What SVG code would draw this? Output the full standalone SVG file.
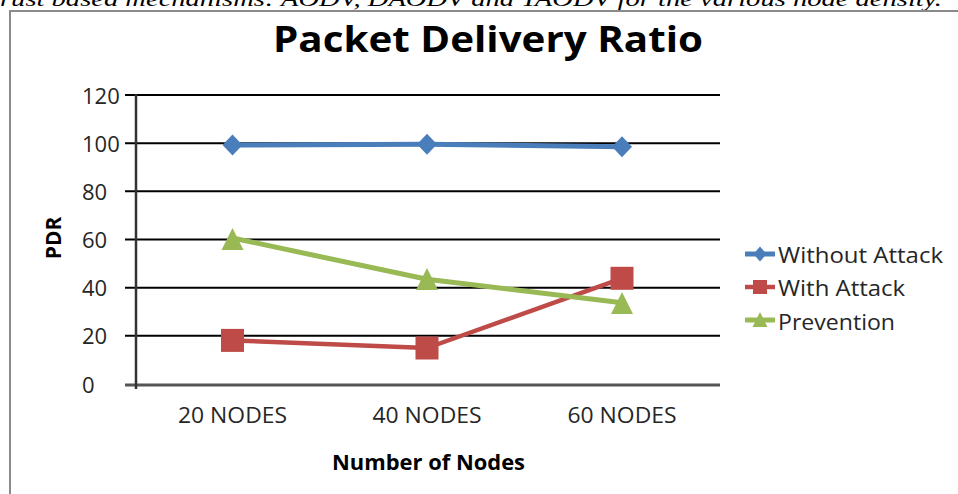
<svg xmlns="http://www.w3.org/2000/svg" width="958" height="494" viewBox="0 0 958 494">
<style>
.cap{font-family:"Liberation Serif",serif;font-style:italic;font-size:22px;fill:#000}
.ttl{font-family:"Open Sans","Liberation Sans",sans-serif;font-weight:bold;font-size:35px;fill:#000}
.tick{font-family:"Open Sans","Liberation Sans",sans-serif;font-size:22px;fill:#262626}
.axt{font-family:"Open Sans","Liberation Sans",sans-serif;font-weight:bold;font-size:21px;fill:#000}
.leg{font-family:"Open Sans","Liberation Sans",sans-serif;font-size:22px;fill:#262626}
.grid{stroke:#000;stroke-width:2}
.blue{stroke:#4A7EBB;stroke-width:5;fill:none;stroke-linejoin:round}
.red{stroke:#BE4B48;stroke-width:4.5;fill:none;stroke-linejoin:round}
.green{stroke:#98B954;stroke-width:5;fill:none;stroke-linejoin:round}
</style>
<defs>
<path id="dia" d="M0,-10.5 L10,0 L0,10.5 L-10,0 Z" fill="#4A7EBB"/>
<rect id="sq" x="-11.5" y="-11.5" width="23" height="23" fill="#BE4B48"/>
<path id="tri" d="M0,-11 L11,11 L-11,11 Z" fill="#98B954"/>
<path id="diaS" d="M0,-7.5 L6.5,0 L0,7.5 L-6.5,0 Z" fill="#4A7EBB"/>
<rect id="sqS" x="-7" y="-7" width="14" height="14" fill="#BE4B48"/>
<path id="triS" d="M0,-8 L7.5,7 L-7.5,7 Z" fill="#98B954"/>
</defs>
<rect width="958" height="494" fill="#fff"/>
<text class="cap" x="0" y="6" textLength="942" lengthAdjust="spacingAndGlyphs">rust based mechanisms: AODV, DAODV and TAODV for the various node density.</text>
<path d="M10,494 V11 H958" fill="none" stroke="#8a8a8a" stroke-width="2"/>
<text class="ttl" x="273" y="52" textLength="430" lengthAdjust="spacingAndGlyphs">Packet Delivery Ratio</text>
<g id="axes">
<line class="grid" x1="125" y1="95" x2="720" y2="95"/>
<line class="grid" x1="125" y1="143.2" x2="720" y2="143.2"/>
<line class="grid" x1="125" y1="191.3" x2="720" y2="191.3"/>
<line class="grid" x1="125" y1="239.5" x2="720" y2="239.5"/>
<line class="grid" x1="125" y1="287.7" x2="720" y2="287.7"/>
<line class="grid" x1="125" y1="335.8" x2="720" y2="335.8"/>
<line x1="125" y1="385" x2="720" y2="385" stroke="#555" stroke-width="3"/>
<line x1="136" y1="94" x2="136" y2="389" stroke="#333" stroke-width="2.5"/>
<text class="tick" x="82" y="104">120</text>
<text class="tick" x="82" y="152">100</text>
<text class="tick" x="82" y="200">80</text>
<text class="tick" x="82" y="248">60</text>
<text class="tick" x="82" y="296">40</text>
<text class="tick" x="82" y="344">20</text>
<text class="tick" x="82" y="393">0</text>
<text class="tick" x="232.5" y="423" text-anchor="middle" textLength="109" lengthAdjust="spacingAndGlyphs">20 NODES</text>
<text class="tick" x="427" y="423" text-anchor="middle" textLength="109" lengthAdjust="spacingAndGlyphs">40 NODES</text>
<text class="tick" x="622" y="423" text-anchor="middle" textLength="109" lengthAdjust="spacingAndGlyphs">60 NODES</text>
<text class="axt" x="428.5" y="470" text-anchor="middle" textLength="193" lengthAdjust="spacingAndGlyphs">Number of Nodes</text>
<text class="axt" transform="translate(61,238) rotate(-90)" text-anchor="middle">PDR</text>
</g>
<g id="connectors">
<polyline class="blue" points="232.5,145 427,144.3 622,146.7"/>
<polyline class="red" points="232.5,340.4 427,348 622,278.3"/>
<polyline class="green" points="232.5,238 427,279.3 622,302.7"/>
</g>
<g id="without-attack">
<use href="#dia" x="232.5" y="145"/>
<use href="#dia" x="427" y="144.3"/>
<use href="#dia" x="622" y="146.7"/>
</g>
<g id="with-attack">
<use href="#sq" x="232.5" y="340.4"/>
<use href="#sq" x="427" y="348"/>
<use href="#sq" x="622" y="278.3"/>
</g>
<g id="prevention">
<use href="#tri" x="232.5" y="239"/>
<use href="#tri" x="427" y="279"/>
<use href="#tri" x="622" y="303"/>
</g>
<g id="legend">
<line class="blue" x1="745" y1="254" x2="775" y2="254"/>
<use href="#diaS" x="760" y="254"/>
<text class="leg" x="778" y="263" textLength="165" lengthAdjust="spacingAndGlyphs">Without Attack</text>
<line class="red" x1="745" y1="287" x2="775" y2="287"/>
<use href="#sqS" x="760" y="287"/>
<text class="leg" x="778" y="296" textLength="127" lengthAdjust="spacingAndGlyphs">With Attack</text>
<line class="green" x1="745" y1="320" x2="775" y2="320"/>
<use href="#triS" x="760" y="320"/>
<text class="leg" x="778" y="330" textLength="117" lengthAdjust="spacingAndGlyphs">Prevention</text>
</g>
</svg>
